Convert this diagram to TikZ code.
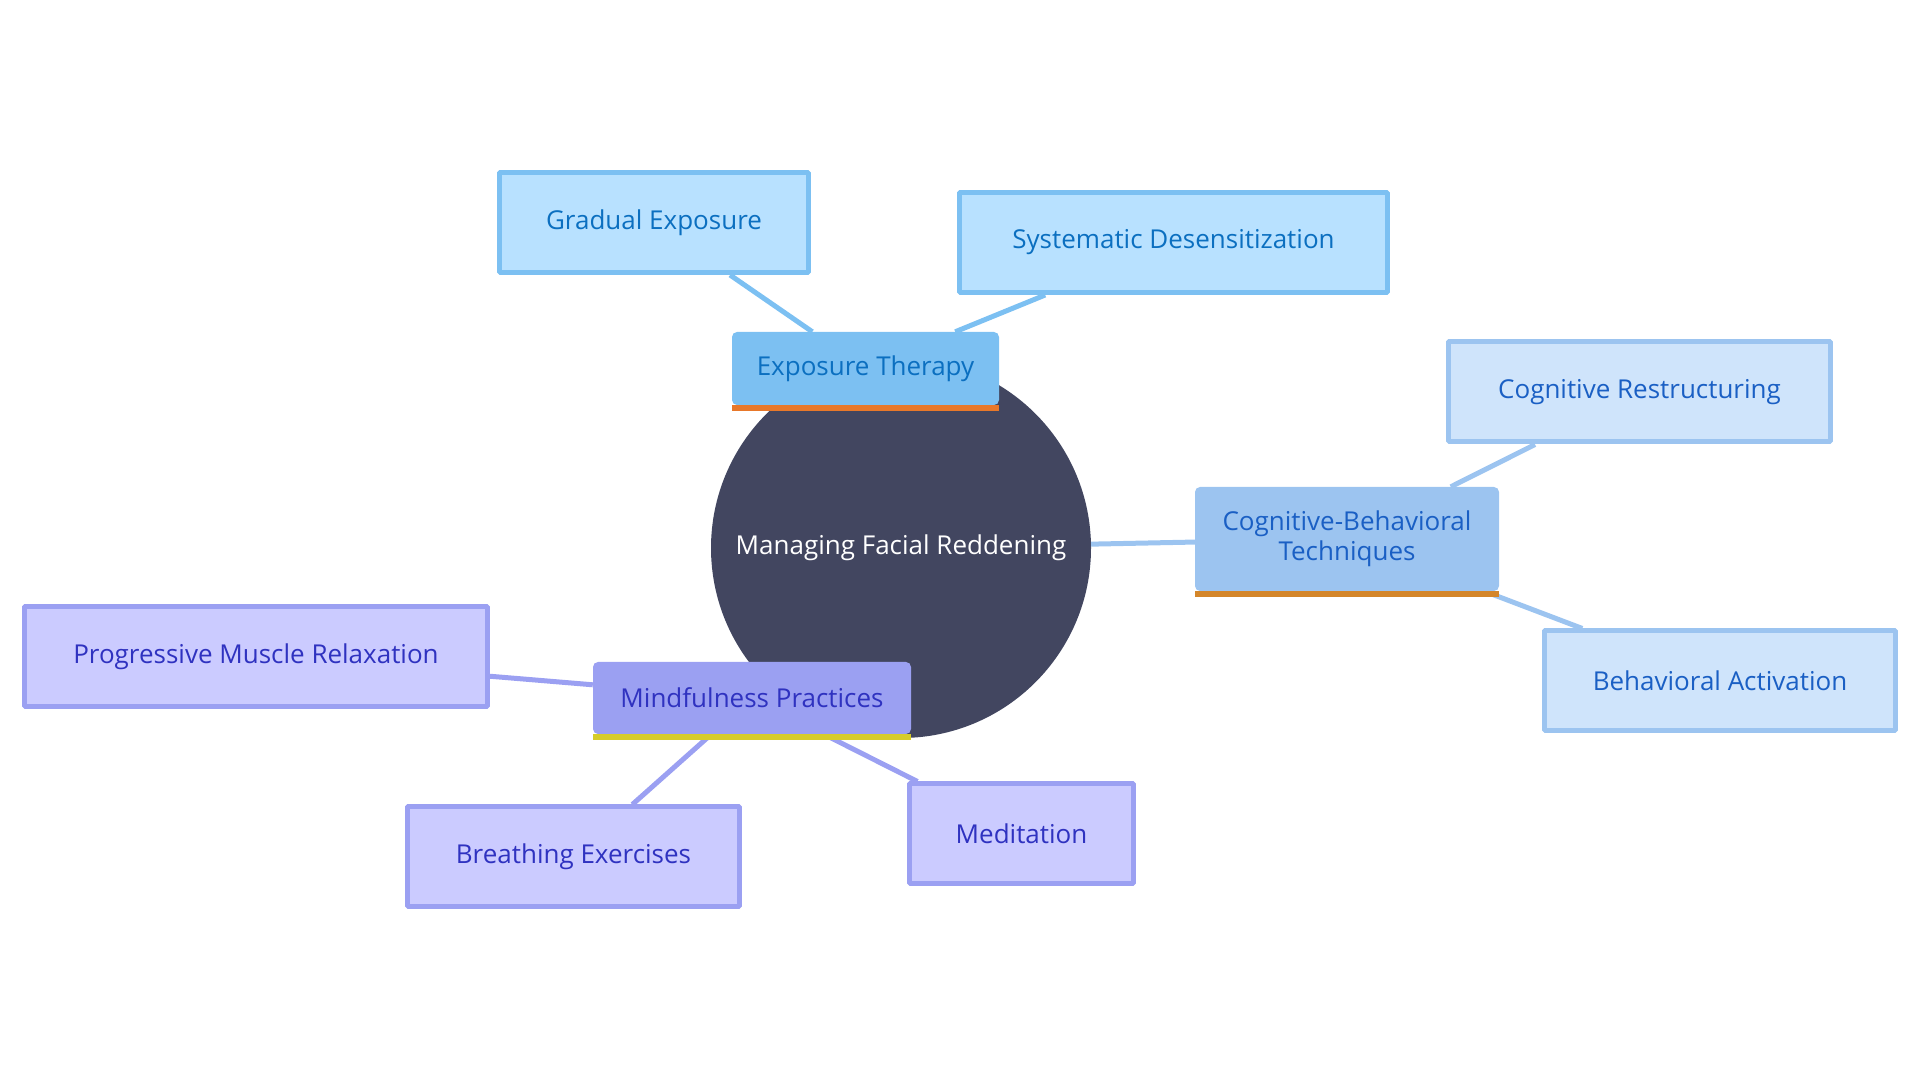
\documentclass[tikz,border=0pt]{standalone}
\usepackage{fontspec}
\setmainfont{Open Sans}
\usetikzlibrary{backgrounds}
\definecolor{hubfill}{HTML}{424660}
\definecolor{expfill}{HTML}{7CC0F2}
\definecolor{exptext}{HTML}{0B6FC0}
\definecolor{expbar}{HTML}{E8782A}
\definecolor{expleaf}{HTML}{B8E1FF}
\definecolor{cbtfill}{HTML}{9CC4F0}
\definecolor{cbttext}{HTML}{1A5FC4}
\definecolor{cbtbar}{HTML}{D4862A}
\definecolor{cbtleaf}{HTML}{CFE4FB}
\definecolor{mindfill}{HTML}{9BA0F2}
\definecolor{mindtext}{HTML}{2F32C0}
\definecolor{mindbar}{HTML}{D6CC2A}
\definecolor{mindleaf}{HTML}{CBCBFF}
\tikzset{
  txt/.style={font=\fontsize{26bp}{30bp}\selectfont, inner sep=0pt},
  branchbox/.style={txt, rounded corners=5bp, align=center},
  leafbox/.style={txt, draw, line width=5bp, minimum height=100bp},
  link/.style={line width=5bp},
}
\begin{document}
\begin{tikzpicture}[line join=bevel,]
\useasboundingbox (0bp,0bp) rectangle (1920bp,1080bp);
%%
\node (hub) at (901bp,532bp) [circle,fill=hubfill,minimum size=380bp,txt,text=white] {Managing Facial Reddening};
%
\node (expo) at (865.5bp,711.5bp) [branchbox,fill=expfill,text=exptext,minimum width=267bp,minimum height=73bp] {Exposure Therapy};
  \fill [expbar] (expo.south west) rectangle ([yshift=-6bp]expo.south east);
\node (gradual) at (654bp,857.5bp) [leafbox,fill=expleaf,draw=expfill,text=exptext,minimum width=309bp] {Gradual Exposure};
\node (systematic) at (1173.5bp,837.5bp) [leafbox,fill=expleaf,draw=expfill,text=exptext,minimum width=428bp] {Systematic Desensitization};
%
\node (cbt) at (1347bp,541bp) [branchbox,fill=cbtfill,text=cbttext,minimum width=304bp,minimum height=104bp] {Cognitive-Behavioral\\Techniques};
  \fill [cbtbar] (cbt.south west) rectangle ([yshift=-6bp]cbt.south east);
\node (restructuring) at (1639.5bp,688bp) [leafbox,fill=cbtleaf,draw=cbtfill,text=cbttext,minimum width=382bp] {Cognitive Restructuring};
\node (activation) at (1720bp,399bp) [leafbox,fill=cbtleaf,draw=cbtfill,text=cbttext,minimum width=351bp] {Behavioral Activation};
%
\node (mind) at (752bp,382bp) [branchbox,fill=mindfill,text=mindtext,minimum width=318bp,minimum height=72bp] {Mindfulness Practices};
  \fill [mindbar] (mind.south west) rectangle ([yshift=-6bp]mind.south east);
\node (progressive) at (256bp,423bp) [leafbox,fill=mindleaf,draw=mindfill,text=mindtext,minimum width=463bp] {Progressive Muscle Relaxation};
\node (breathing) at (573.5bp,223bp) [leafbox,fill=mindleaf,draw=mindfill,text=mindtext,minimum width=332bp] {Breathing Exercises};
\node (meditation) at (1021.5bp,246bp) [leafbox,fill=mindleaf,draw=mindfill,text=mindtext,minimum width=224bp] {Meditation};
%
\begin{pgfonlayer}{background}
  \draw [link,expfill] (hub) -- (expo);
  \draw [link,expfill] (expo) -- (gradual);
  \draw [link,expfill] (expo) -- (systematic);
  \draw [link,cbtfill] (hub) -- (cbt);
  \draw [link,cbtfill] (cbt) -- (restructuring);
  \draw [link,cbtfill] (cbt) -- (activation);
  \draw [link,mindfill] (hub) -- (mind);
  \draw [link,mindfill] (mind) -- (progressive);
  \draw [link,mindfill] (mind) -- (breathing);
  \draw [link,mindfill] (mind) -- (meditation);
\end{pgfonlayer}
%
\end{tikzpicture}
\end{document}
